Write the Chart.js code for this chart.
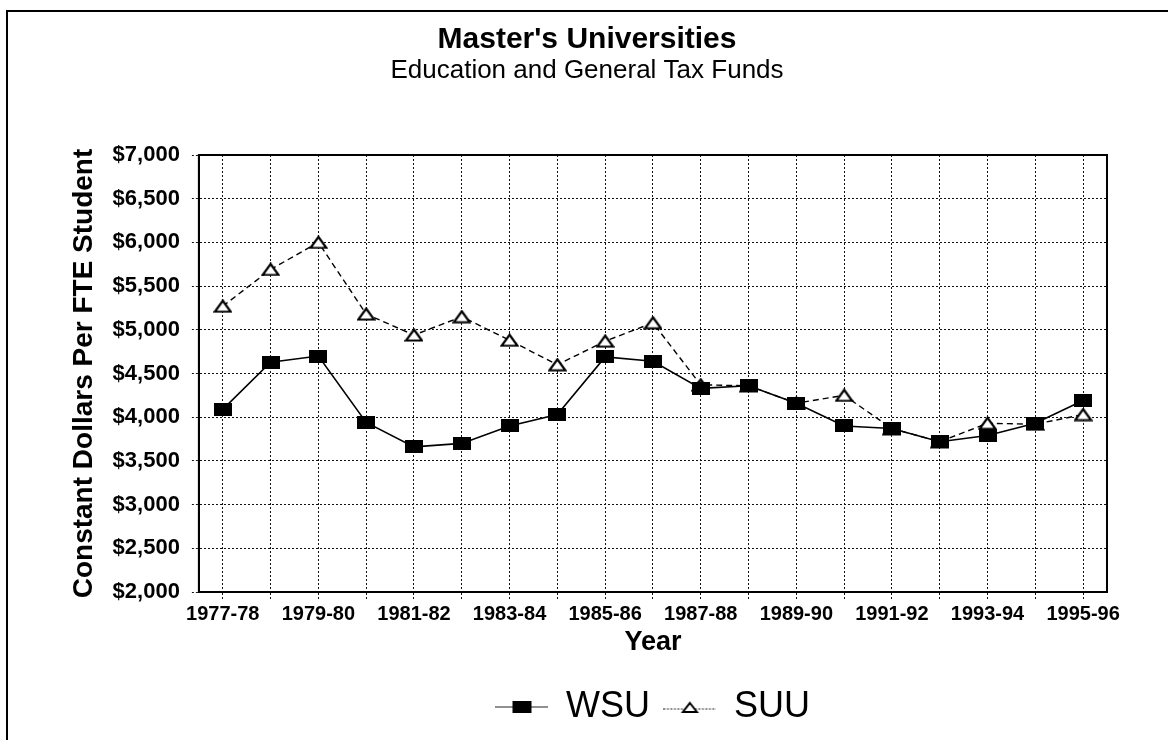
<!DOCTYPE html>
<html>
<head>
<meta charset="utf-8">
<script src="https://cdn.jsdelivr.net/npm/chart.js@4/dist/chart.umd.min.js"></script>
<style>
  html, body { margin: 0; padding: 0; background: #fff; }
  #wrap { position: relative; width: 1168px; height: 740px; overflow: hidden; }
  #frame { position: absolute; left: 6px; top: 10px; width: 1200px; height: 800px;
           border-top: 2px solid #000; border-left: 2px solid #000; pointer-events: none; }
  canvas { position: absolute; left: 0; top: 0; }
</style>
</head>
<body>
<div id="wrap">
  <canvas id="c" width="1168" height="740"></canvas>
  <div id="frame"></div>
</div>
<script>
// ---- data ----
const years = ['1977-78','1978-79','1979-80','1980-81','1981-82','1982-83','1983-84','1984-85','1985-86','1986-87',
               '1987-88','1988-89','1989-90','1990-91','1991-92','1992-93','1993-94','1994-95','1995-96'];
const wsu = [4090, 4630, 4700, 3940, 3660, 3700, 3900, 4030, 4690, 4640,
             4330, 4360, 4160, 3900, 3870, 3720, 3790, 3930, 4190];
const suu = [5270, 5690, 6000, 5180, 4940, 5150, 4880, 4600, 4870, 5080,
             4370, 4360, 4160, 4250, 3870, 3720, 3930, 3920, 4030];
const xTickLabels = ['1977-78','1979-80','1981-82','1983-84','1985-86','1987-88','1989-90','1991-92','1993-94','1995-96'];
const yTickLabels = ['$2,000','$2,500','$3,000','$3,500','$4,000','$4,500','$5,000','$5,500','$6,000','$6,500','$7,000'];
const seriesNames = ['WSU', 'SUU'];

// ---- marker images ----
function mk(w, h, draw) {
  const c = document.createElement('canvas');
  c.width = w; c.height = h;
  draw(c.getContext('2d'), w, h);
  return c;
}
const rectImg = mk(18, 13, (g, w, h) => { g.fillStyle = '#000'; g.fillRect(0, 0, w, h); });
const triImg = mk(19, 14, (g, w, h) => {
  g.beginPath(); g.moveTo(w / 2, 1.5); g.lineTo(w - 1.5, h - 1.5); g.lineTo(1.5, h - 1.5); g.closePath();
  g.fillStyle = '#fff'; g.fill(); g.lineWidth = 2.2; g.strokeStyle = '#000'; g.stroke();
});
const legWsu = mk(53, 16, (g, w, h) => {
  g.strokeStyle = '#222'; g.lineWidth = 1.2; g.beginPath(); g.moveTo(0, h / 2); g.lineTo(w, h / 2); g.stroke();
  g.fillStyle = '#000'; g.fillRect(w / 2 - 9.5, h / 2 - 6, 19, 12);
});
const legSuu = mk(53, 16, (g, w, h) => {
  g.strokeStyle = '#222'; g.lineWidth = 1; g.setLineDash([2, 1.5]);
  g.beginPath(); g.moveTo(0, h / 2 + 2); g.lineTo(w, h / 2 + 2); g.stroke(); g.setLineDash([]);
  g.beginPath(); g.moveTo(w / 2, h / 2 - 4); g.lineTo(w / 2 + 7, h / 2 + 5); g.lineTo(w / 2 - 7, h / 2 + 5); g.closePath();
  g.fillStyle = '#fff'; g.fill(); g.lineWidth = 2; g.strokeStyle = '#000'; g.stroke();
});

Chart.defaults.font.family = "'Liberation Sans', Arial, Helvetica, sans-serif";
Chart.defaults.color = '#000';

const framePlugin = {
  id: 'frame',
  beforeDatasetsDraw(chart) {
    const {ctx, chartArea: a} = chart;
    ctx.save();
    ctx.strokeStyle = '#000';
    ctx.lineWidth = 2;
    ctx.strokeRect(a.left, a.top, a.right - a.left, a.bottom - a.top);
    ctx.restore();
  }
};

new Chart(document.getElementById('c'), {
  type: 'line',
  data: {
    labels: years,
    datasets: [
      { label: seriesNames[0], data: wsu, borderColor: '#000', borderWidth: 1.6, pointStyle: rectImg,
        pointRadius: 8, pointHoverRadius: 8, fill: false, tension: 0 },
      { label: seriesNames[1], data: suu, borderColor: '#000', borderWidth: 1.4, borderDash: [6, 4],
        pointStyle: triImg, pointRadius: 8, pointHoverRadius: 8, fill: false, tension: 0 }
    ]
  },
  options: {
    responsive: false,
    devicePixelRatio: 1,
    animation: false,
    layout: { padding: { left: 67, right: 61, top: 0, bottom: 5 } },
    plugins: {
      tooltip: { enabled: false },
      title: {
        display: true, text: "Master's Universities",
        font: { size: 30, weight: 'bold', lineHeight: 1 },
        padding: { top: 25, bottom: 0 }
      },
      subtitle: {
        display: true, text: 'Education and General Tax Funds',
        font: { size: 26, weight: 'normal', lineHeight: 1 },
        padding: { top: 3, bottom: 71 }
      },
      legend: {
        position: 'bottom',
        fullSize: false,
        labels: {
          usePointStyle: true,
          pointStyleWidth: 52,
          padding: 14,
          font: { size: 36 },
          generateLabels(chart) {
            const items = Chart.defaults.plugins.legend.labels.generateLabels(chart);
            const imgs = [legWsu, legSuu];
            items.forEach((it, i) => { it.pointStyle = imgs[i]; });
            return items;
          }
        }
      }
    },
    scales: {
      x: {
        offset: true,
        grid: { offset: false, color: '#111', lineWidth: 1, tickLength: 7, tickColor: '#111', tickBorderDash: [2, 2] },
        border: { display: true, color: '#000', width: 2, dash: [2, 2] },
        ticks: {
          autoSkip: false, maxRotation: 0, padding: 3,
          font: { size: 20, weight: 'bold' },
          callback: (v, i) => xTickLabels.includes(years[i]) ? years[i] : ''
        },
        title: { display: true, text: 'Year', font: { size: 27, weight: 'bold', lineHeight: 1 }, padding: { top: 0, bottom: 19 } }
      },
      y: {
        min: 2000, max: 7000,
        grid: { color: '#111', lineWidth: 1, tickLength: 7, tickColor: '#111', tickBorderDash: [2, 2] },
        border: { display: true, color: '#000', width: 2, dash: [2, 2] },
        ticks: {
          stepSize: 250, padding: 12,
          font: { size: 22, weight: 'bold' },
          callback: (v) => (v % 500 === 0) ? yTickLabels[(v - 2000) / 500] : ''
        },
        title: { display: true, text: 'Constant Dollars Per FTE Student', font: { size: 28, weight: 'bold', lineHeight: 1.2 }, padding: { top: 0, bottom: 0 } }
      }
    }
  },
  plugins: [framePlugin]
});
</script>
</body>
</html>
